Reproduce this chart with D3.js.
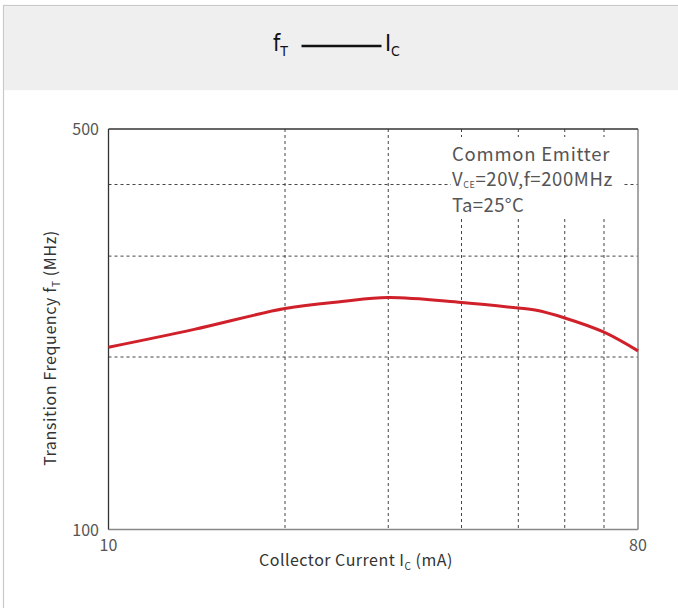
<!DOCTYPE html>
<html><head><meta charset="utf-8">
<script src="https://cdn.jsdelivr.net/npm/d3@7"></script>
<style>body{margin:0;background:#fff}svg{display:block}</style>
</head><body>
<script>
const current = [10, 14, 20, 25, 30, 40, 50, 53.4, 60, 70, 80];
const freq = [208, 223.5, 243, 250, 254, 249, 243.5, 241.5, 234, 221, 205];
const xGrid = [20, 30, 40, 50, 60, 70];
const yGrid = [200, 300, 400];
const xTickLabels = [10, 80];
const yTickLabels = [100, 500];

const W = 678, H = 608;
const svg = d3.select("body").append("svg").attr("width", W).attr("height", H);
const font = "'Noto Sans CJK SC','Noto Sans',sans-serif";
const tfont = "'Liberation Sans Narrow','DejaVu Sans Condensed',sans-serif";

// panel
svg.append("rect").attr("x", 3.5).attr("y", 5.5).attr("width", 720).attr("height", 720)
  .attr("fill", "#fff").attr("stroke", "#c8c8c8").attr("stroke-width", 1.2);
svg.append("rect").attr("x", 4).attr("y", 6.2).attr("width", 720).attr("height", 84)
  .attr("fill", "#efefef");

// title
const t = svg.append("text").attr("y", 51).attr("font-family", tfont)
  .attr("font-size", 23).attr("fill", "#111");
t.append("tspan").attr("x", 273).text("f");
t.append("tspan").attr("font-size", 14).attr("dy", 5).text("T");
svg.append("line").attr("x1", 301.5).attr("x2", 381.5).attr("y1", 46).attr("y2", 46)
  .attr("stroke", "#111").attr("stroke-width", 2.6);
const t2 = svg.append("text").attr("y", 51).attr("font-family", tfont)
  .attr("font-size", 23).attr("fill", "#111");
t2.append("tspan").attr("x", 385).text("I");
t2.append("tspan").attr("font-size", 14).attr("dy", 5).text("C");

const L = 108.5, R = 638, T = 129, B = 529.5;
const x = d3.scaleLog().domain([10, 80]).range([L, R]);
const y = d3.scaleLog().domain([100, 500]).range([B, T]);

const g = svg.append("g");
// grid
g.selectAll(".vg").data(xGrid).enter().append("line")
  .attr("x1", d => x(d)).attr("x2", d => x(d)).attr("y1", T).attr("y2", B)
  .attr("stroke", "#444").attr("stroke-width", 1).attr("stroke-dasharray", "3,3");
g.selectAll(".hg").data(yGrid).enter().append("line")
  .attr("x1", L).attr("x2", R).attr("y1", d => y(d)).attr("y2", d => y(d))
  .attr("stroke", "#444").attr("stroke-width", 1).attr("stroke-dasharray", "3,3");

// annotation box
g.append("rect").attr("x", 451).attr("y", 137).attr("width", 171).attr("height", 80).attr("fill", "#fff");
const ann = g.append("g").attr("font-family", font).attr("font-size", 18.5).attr("fill", "#555");
ann.append("text").attr("x", 452).attr("y", 161).attr("letter-spacing", 0.75).text("Common Emitter");
const a2 = ann.append("text").attr("x", 452).attr("y", 186).attr("letter-spacing", 0.6);
a2.append("tspan").text("V");
a2.append("tspan").attr("font-size", 9).attr("dy", 1.5).text("CE");
a2.append("tspan").attr("dy", -1.5).text("=20V,f=200MHz");
ann.append("text").attr("x", 452).attr("y", 212).attr("letter-spacing", 0.4).text("Ta=25°C");

// frame
g.append("line").attr("x1", L).attr("x2", R).attr("y1", B).attr("y2", B).attr("stroke", "#888").attr("stroke-width", 1.5);
g.append("line").attr("x1", R).attr("x2", R).attr("y1", T).attr("y2", B).attr("stroke", "#888").attr("stroke-width", 1.5);
g.append("line").attr("x1", L).attr("x2", R).attr("y1", T).attr("y2", T).attr("stroke", "#333").attr("stroke-width", 1.3);
g.append("line").attr("x1", L).attr("x2", L).attr("y1", T).attr("y2", B).attr("stroke", "#333").attr("stroke-width", 1.3);

// curve
const line = d3.line().x((d, i) => x(current[i])).y(d => y(d)).curve(d3.curveCatmullRom.alpha(0.5));
g.append("path").datum(freq).attr("d", line).attr("fill", "none")
  .attr("stroke", "#d0202a").attr("stroke-width", 3);

// tick labels
const lab = svg.append("g").attr("font-family", font).attr("font-size", 16).attr("fill", "#555");
lab.selectAll(".yl").data(yTickLabels).enter().append("text")
  .attr("x", 99).attr("y", d => y(d) + 6).attr("text-anchor", "end").text(d => d);
lab.selectAll(".xl").data(xTickLabels).enter().append("text")
  .attr("x", d => x(d)).attr("y", 551).attr("text-anchor", "middle").text(d => d);

// axis titles
const xt = svg.append("text").attr("x", 259).attr("y", 566).attr("font-family", font).attr("font-size", 16)
  .attr("letter-spacing", 0.5).attr("fill", "#333");
xt.append("tspan").text("Collector Current  I");
xt.append("tspan").attr("font-size", 10).attr("dy", 4).text("C");
xt.append("tspan").attr("dy", -4).text(" (mA)");

const yt = svg.append("text").attr("transform", "translate(56,348) rotate(-90)").attr("text-anchor", "middle")
  .attr("font-family", font).attr("font-size", 16).attr("letter-spacing", 0.6).attr("fill", "#333");
yt.append("tspan").text("Transition Frequency  f");
yt.append("tspan").attr("font-size", 10).attr("dy", 4).text("T");
yt.append("tspan").attr("dy", -4).text(" (MHz)");
</script>
</body></html>
